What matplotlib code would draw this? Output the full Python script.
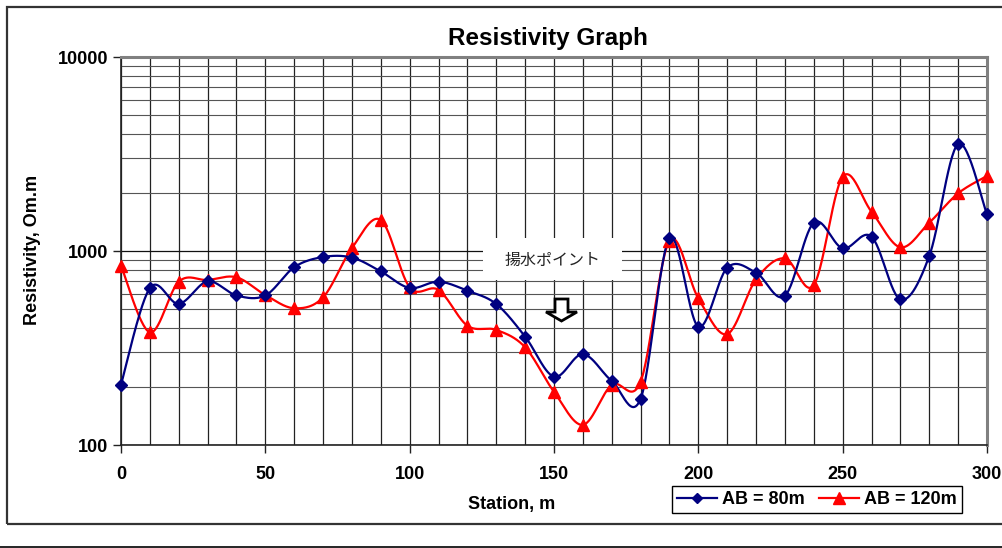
import numpy as np
import matplotlib
matplotlib.use("Agg")
import matplotlib.pyplot as plt
from matplotlib.lines import Line2D
from matplotlib.patches import Rectangle, Polygon
from matplotlib.ticker import FixedLocator, NullFormatter, LogLocator

plt.rcParams['font.family'] = ['Liberation Sans', 'DejaVu Sans']

stations = [0, 10, 20, 30, 40, 50, 60, 70, 80, 90, 100, 110, 120, 130, 140, 150,
            160, 170, 180, 190, 200, 210, 220, 230, 240, 250, 260, 270, 280, 290, 300]
ab80 = [205, 644, 534, 697, 590, 590, 825, 931, 925, 785, 645, 695, 624, 533, 362, 225,
        294, 214, 173, 1160, 407, 820, 773, 588, 1399, 1032, 1185, 563, 942, 3560, 1546]
ab120 = [840, 381, 695, 709, 732, 593, 507, 577, 1036, 1445, 650, 630, 412, 392, 319, 188,
         127, 204, 212, 1130, 570, 373, 714, 917, 668, 2415, 1594, 1045, 1399, 1983, 2436]
series_labels = ['AB = 80m', 'AB = 120m']
x_ticks = [0, 50, 100, 150, 200, 250, 300]
y_ticks = [100, 1000, 10000]
title = 'Resistivity Graph'
xlabel = 'Station, m'
ylabel = 'Resistivity, Om.m'
note = '揚水ポイント'


def smooth(xs, ys, n=30):
    """Excel-like Catmull-Rom/Bezier smoothing in (x, log10 y) space."""
    P = np.column_stack([np.asarray(xs, float), np.log10(np.asarray(ys, float))])
    m = len(P)
    out = []
    t = np.linspace(0, 1, n)[:, None]
    for i in range(m - 1):
        p0 = P[i - 1] if i > 0 else P[i]
        p1 = P[i]
        p2 = P[i + 1]
        p3 = P[i + 2] if i + 2 < m else P[i + 1]
        b1 = p1 + (p2 - p0) / 6.0
        b2 = p2 - (p3 - p1) / 6.0
        seg = ((1 - t) ** 3) * p1 + 3 * ((1 - t) ** 2) * t * b1 + 3 * (1 - t) * t ** 2 * b2 + t ** 3 * p2
        out.append(seg if i == 0 else seg[1:])
    c = np.vstack(out)
    return c[:, 0], 10 ** c[:, 1]


W, H = 1003, 548
fig = plt.figure(figsize=(W / 100, H / 100), dpi=100)
L, R, T, B = 121, 987, 57, 445
ax = fig.add_axes([L / W, 1 - B / H, (R - L) / W, (B - T) / H])

ax.set_yscale('log')
ax.set_xlim(0, 300)
ax.set_ylim(100, 10000)

# gridlines
ax.xaxis.set_major_locator(FixedLocator(x_ticks))
ax.xaxis.set_minor_locator(FixedLocator(stations))
ax.yaxis.set_major_locator(FixedLocator(y_ticks))
ax.yaxis.set_minor_locator(LogLocator(base=10, subs=np.arange(2, 10)))
ax.yaxis.set_minor_formatter(NullFormatter())
ax.set_yticklabels([str(v) for v in y_ticks])
ax.set_xticklabels([str(v) for v in x_ticks])
ax.grid(True, which='major', axis='y', color='#111111', lw=0.9)
ax.grid(True, which='minor', axis='y', color='#555555', lw=0.8)
ax.grid(True, which='minor', axis='x', color='#222222', lw=0.9)
ax.grid(True, which='major', axis='x', color='#222222', lw=0.9)
ax.set_axisbelow(True)
ax.tick_params(axis='both', which='minor', length=0)
ax.tick_params(axis='both', which='major', length=6, width=1, direction='out',
               labelsize=13, color='#222222')
ax.tick_params(axis='x', pad=9)
ax.tick_params(axis='y', pad=3)
for lab in ax.get_xticklabels() + ax.get_yticklabels():
    lab.set_fontweight('bold')

for side in ['top', 'right']:
    ax.spines[side].set_color('#808080')
    ax.spines[side].set_linewidth(2.2)
for side in ['left', 'bottom']:
    ax.spines[side].set_color('#222222')
    ax.spines[side].set_linewidth(1.2)

# series
xs, ys = smooth(stations, ab80)
ax.plot(xs, ys, color='#000080', lw=1.6, zorder=4, clip_on=False)
ax.plot(stations, ab80, ls='none', marker='D', ms=6, color='#000080', zorder=5, clip_on=False)
xs, ys = smooth(stations, ab120)
ax.plot(xs, ys, color='#ff0000', lw=1.6, zorder=3, clip_on=False)
ax.plot(stations, ab120, ls='none', marker='^', ms=9, color='#ff0000', zorder=4, clip_on=False)

# annotation box
bx0, bx1, by0, by1 = 483, 622, 238, 280
ax.add_patch(Rectangle(((bx0 - L) / (R - L), 1 - (by1 - T) / (B - T)),
                       (bx1 - bx0) / (R - L), (by1 - by0) / (B - T),
                       transform=ax.transAxes, facecolor='white', edgecolor='none', zorder=2.5))
ax.text(((bx0 + bx1) / 2 - L) / (R - L), 1 - (260 - T) / (B - T), note,
        transform=ax.transAxes, ha='center', va='center', fontsize=11.5, color='#222222',
        family=['Noto Sans CJK JP', 'DejaVu Sans'], zorder=6)

# hollow down arrow
def axp(px, py):
    return ((px - L) / (R - L), 1 - (py - T) / (B - T))

arrow_px = [(555, 299), (568, 299), (568, 312), (577, 312), (561.5, 321), (546, 312), (555, 312)]
ax.add_patch(Polygon([axp(*p) for p in arrow_px], closed=True, transform=ax.transAxes,
                     facecolor='white', edgecolor='black', lw=2.0, zorder=6, joinstyle='miter'))

# labels
fig.text(548 / W, 1 - 39 / H, title, ha='center', va='center', fontsize=17.5, fontweight='bold')
fig.text(512 / W, 1 - 505 / H, xlabel, ha='center', va='center', fontsize=13, fontweight='bold')
fig.text(33 / W, 1 - 250 / H, ylabel, ha='center', va='center', fontsize=13, fontweight='bold',
         rotation=90)

# legend
handles = [Line2D([], [], color='#000080', lw=1.6, marker='D', ms=5),
           Line2D([], [], color='#ff0000', lw=1.6, marker='^', ms=8)]
leg = fig.legend(handles, series_labels, loc='center', bbox_to_anchor=(817 / W, 1 - 499.5 / H),
                 ncol=2, frameon=True, fancybox=False, edgecolor='black', framealpha=1,
                 prop={'weight': 'bold', 'size': 13}, handlelength=2.2, handletextpad=0.3,
                 columnspacing=0.8, borderpad=0.25, borderaxespad=0)
leg.get_frame().set_linewidth(1.0)

# outer frame
fig.add_artist(Rectangle((7 / W, 1 - 524 / H), 1.2, (524 - 7) / H, transform=fig.transFigure,
                         facecolor='none', edgecolor='#333333', lw=1.6))
fig.add_artist(Line2D([0, 1], [1 - 547 / H, 1 - 547 / H], transform=fig.transFigure,
                      color='black', lw=1.2))

fig.savefig('out.png', dpi=100)
